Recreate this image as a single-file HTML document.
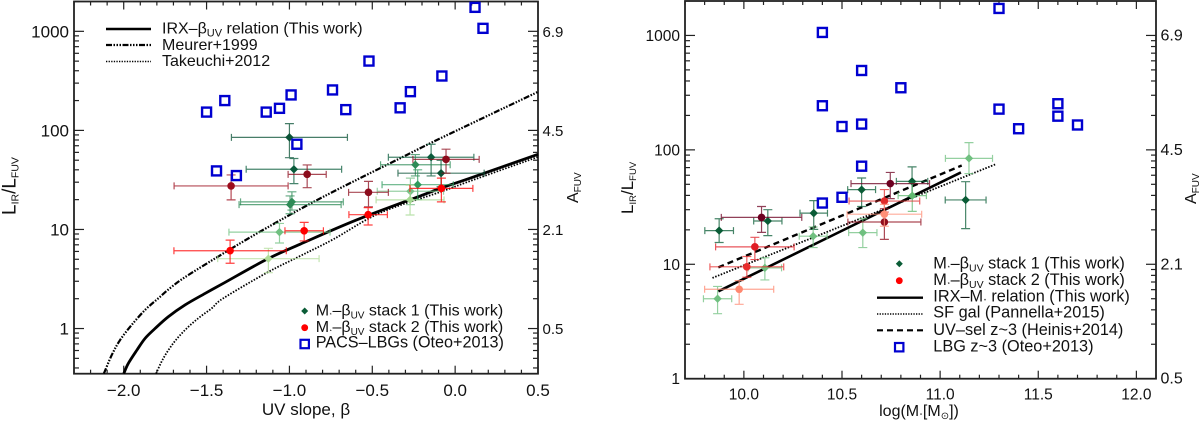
<!DOCTYPE html>
<html lang="en">
<head>
<meta charset="utf-8">
<title>IRX relations</title>
<style>
html,body{margin:0;padding:0;background:#fff;}
svg{display:block;position:absolute;left:0;top:0;}
text{font-family:"Liberation Sans","DejaVu Sans",sans-serif;fill:#111;}
</style>
</head>
<body>
<svg id="chart" xmlns="http://www.w3.org/2000/svg" width="1200" height="422" viewBox="0 0 1200 422">
  <rect x="0" y="0" width="1200" height="422" fill="#fff"/>
  <g id="left-panel"></g>
  <g id="right-panel"></g>

  <!-- Axis titles -->
  <text x="306" y="415" font-size="17" text-anchor="middle">UV slope, β</text>
  <text transform="translate(15.5,215) rotate(-90)" font-size="19">L<tspan font-size="10.5" dy="3">IR</tspan><tspan font-size="19" dy="-3">/L</tspan><tspan font-size="10.5" dy="3">FUV</tspan></text>
  <text transform="translate(578,203) rotate(-90)" font-size="16">A<tspan font-size="10" dy="3">FUV</tspan></text>
  <text x="919" y="416" font-size="16" text-anchor="middle">log(M<tspan font-size="6">⋆</tspan>[M<tspan font-size="10" dy="3">⊙</tspan><tspan dy="-3">])</tspan></text>
  <text transform="translate(633,214) rotate(-90)" font-size="17">L<tspan font-size="9.5" dy="3">IR</tspan><tspan font-size="17" dy="-3">/L</tspan><tspan font-size="9.5" dy="3">FUV</tspan></text>
  <text transform="translate(1196,204) rotate(-90)" font-size="16">A<tspan font-size="10" dy="3">FUV</tspan></text>

  <!-- Left legend, top -->
  <g>
    <line x1="106" x2="151" y1="29" y2="29" stroke="#000" stroke-width="2.6"/>
    <line x1="106" x2="151" y1="45" y2="45" stroke="#000" stroke-width="2.2" stroke-dasharray="6 1.5 1.5 1.5 1.5 1.5 1.5 1.5"/>
    <line x1="106" x2="151" y1="61.5" y2="61.5" stroke="#000" stroke-width="1.6" stroke-dasharray="1.3 1.3"/>
    <text x="162" y="33.5" font-size="16">IRX–β<tspan font-size="11" dy="3">UV</tspan><tspan dy="-3"> relation (This work)</tspan></text>
    <text x="162" y="50" font-size="16">Meurer+1999</text>
    <text x="162" y="66" font-size="16">Takeuchi+2012</text>
  </g>

  <!-- Left legend, bottom -->
  <g>
    <path d="M304.7 307.5 L308.2 311 L304.7 314.5 L301.2 311 Z" fill="#0a5c36"/>
    <circle cx="304.7" cy="327.7" r="3.4" fill="#f00"/>
    <rect x="300.5" y="339.8" width="8.4" height="8.4" fill="none" stroke="#0000d0" stroke-width="2.2"/>
    <text x="315.7" y="315.3" font-size="16">M<tspan font-size="5.5">⋆</tspan>–β<tspan font-size="10" dy="3">UV</tspan><tspan dy="-3"> stack 1 (This work)</tspan></text>
    <text x="315.7" y="332" font-size="16">M<tspan font-size="5.5">⋆</tspan>–β<tspan font-size="10" dy="3">UV</tspan><tspan dy="-3"> stack 2 (This work)</tspan></text>
    <text x="315.7" y="347.7" font-size="16.2">PACS–LBGs (Oteo+2013)</text>
  </g>

  <!-- Right legend -->
  <g>
    <path d="M899.3 260.2 L902.8 263.7 L899.3 267.2 L895.8 263.7 Z" fill="#0a5c36"/>
    <circle cx="899.3" cy="280.7" r="3.4" fill="#f00"/>
    <line x1="877" x2="923" y1="297.7" y2="297.7" stroke="#000" stroke-width="2.4"/>
    <line x1="877" x2="923" y1="314" y2="314" stroke="#000" stroke-width="1.6" stroke-dasharray="1.3 1.3"/>
    <line x1="877" x2="923" y1="330.3" y2="330.3" stroke="#000" stroke-width="2.2" stroke-dasharray="6 4"/>
    <rect x="895" y="343" width="8.4" height="8.4" fill="none" stroke="#0000d0" stroke-width="2.2"/>
    <text x="933.3" y="268.3" font-size="16.3">M<tspan font-size="6">⋆</tspan>–β<tspan font-size="10.5" dy="3">UV</tspan><tspan dy="-3"> stack 1 (This work)</tspan></text>
    <text x="933.3" y="285" font-size="16.3">M<tspan font-size="6">⋆</tspan>–β<tspan font-size="10.5" dy="3">UV</tspan><tspan dy="-3"> stack 2 (This work)</tspan></text>
    <text x="933.3" y="301.7" font-size="16.3">IRX–M<tspan font-size="6">⋆</tspan> relation (This work)</text>
    <text x="933.3" y="317.7" font-size="16.3">SF gal (Pannella+2015)</text>
    <text x="933.3" y="335" font-size="16.3">UV–sel z~3 (Heinis+2014)</text>
    <text x="933.3" y="351.7" font-size="16.3">LBG z~3 (Oteo+2013)</text>
  </g>
</svg>

<script>
// ---------- Tick data ----------
const leftXTicks = [-2.0, -1.5, -1.0, -0.5, 0.0, 0.5];
const leftXTickLabels = ['−2.0', '−1.5', '−1.0', '−0.5', '0.0', '0.5'];
const rightXTicks = [10.0, 10.5, 11.0, 11.5, 12.0];
const rightXTickLabels = ['10.0', '10.5', '11.0', '11.5', '12.0'];
const yTicks = [1, 10, 100, 1000];
const yTickLabels = ['1', '10', '100', '1000'];
const afuvTickLabels = ['0.5', '2.1', '4.5', '6.9'];

// ---------- Left panel curves ----------
const irxBetaX = [-2.0, -1.972, -1.92, -1.871, -1.811, -1.731, -1.63, -1.509, -1.389, -1.136, -0.935, -0.593, -0.192, -0.091, 0.09, 0.5];
const irxBetaY = [0.35, 0.445, 0.607, 0.796, 1.0, 1.315, 1.73, 2.26, 2.92, 5.0, 7.1, 12.5, 22.4, 26, 32.9, 57.4];
const meurerX = [-2.12, -2.072, -2.022, -1.952, -1.871, -1.791, -1.71, -1.61, -1.358, -1.136, -0.795, -0.292, -0.09, 0.5];
const meurerY = [0.35, 0.541, 0.765, 1.087, 1.54, 2.02, 2.64, 3.47, 6.3, 10.4, 21.4, 56.5, 83, 245];
const takeuchiX = [-1.805, -1.761, -1.701, -1.63, -1.55, -1.469, -1.399, -1.136, -0.935, -0.735, -0.453, -0.09, 0.09, 0.5];
const takeuchiY = [0.35, 0.5, 0.71, 0.966, 1.27, 1.6, 2.02, 3.66, 5.4, 7.96, 14.7, 23.9, 30.8, 54];

// ---------- Left panel squares (PACS-LBGs) ----------
const pacsBeta = [-1.5, -1.39, -1.14, -1.06, -0.99, -0.955, -1.44, -1.32, -0.74, -0.66, -0.52, -0.332, -0.27, -0.08, 0.12, 0.168];
const pacsIrx = [153, 200, 153, 167, 228, 72.5, 39, 35, 256, 162, 501, 169, 246, 354, 1746, 1072];

// ---------- Left panel stack 1 ----------
const leftStack1Beta = [-1.0, -0.973, -0.985, -0.996, -0.145, -0.24, -0.085, -0.226, -0.27, -0.272, -1.06, -1.127];
const leftStack1BetaErr = [0.35, 0.288, 0.31, 0.308, 0.258, 0.21, 0.26, 0.215, 0.2, 0.205, 0.305, 0.306];
const leftStack1Irx = [85, 40.5, 19, 17.8, 53.6, 45, 37, 28.3, 24.3, 19.9, 9.4, 5.07];
const leftStack1Hi = [117, 52, 24, 21.8, 72.5, 57, 50, 40, 33, 28, 11.5, 6.45];
const leftStack1Lo = [53, 29, 15.7, 14.4, 34.7, 34.7, 27, 20, 17.8, 14, 7.3, 3.66];

// ---------- Left panel stack 2 ----------
const leftStack2Beta = [-1.352, -0.893, -0.523, -0.055, -0.083, -0.525, -0.911, -1.358];
const leftStack2BetaErr = [0.344, 0.115, 0.12, 0.2, 0.19, 0.116, 0.116, 0.339];
const leftStack2Irx = [27.5, 36, 23.7, 51, 26, 14.1, 9.7, 6.1];
const leftStack2Hi = [35.5, 44.8, 30.6, 64.6, 33, 16.6, 11.8, 7.8];
const leftStack2Lo = [19.9, 26.4, 16.9, 37, 19, 11.1, 7.66, 4.56];

// ---------- Right panel relations ----------
const irxMassX = [9.87, 11.106];
const irxMassY = [5.8, 63.5];
const heinisX = [9.87, 11.11];
const heinisY = [9.4, 73];
const pannellaX = [9.84, 11.284];
const pannellaY = [7.6, 75];

// ---------- Right panel squares (LBG) ----------
const lbgMass = [10.4, 10.6, 10.8, 10.4, 10.5, 10.6, 10.6, 10.5, 10.4, 11.3, 11.3, 11.4, 11.6, 11.6, 11.7];
const lbgIrx = [1062, 494, 349, 243, 160, 168, 72, 38.5, 34.3, 1722, 227, 153, 253, 197, 165];

// ---------- Right panel stack 1 ----------
const rightStack1Mass = [9.874, 10.122, 10.356, 10.6, 10.857, 11.13, 11.147, 10.858, 10.606, 10.353, 10.107, 9.866];
const rightStack1MassErr = [0.073, 0.072, 0.07, 0.071, 0.08, 0.104, 0.12, 0.072, 0.072, 0.071, 0.085, 0.072];
const rightStack1Irx = [19.7, 23.9, 28, 44.9, 53, 36.5, 84.3, 39.8, 18.9, 17.6, 9.3, 5];
const rightStack1Hi = [25, 30, 36, 56.8, 71, 52.7, 115.6, 51, 25, 21.2, 11.4, 6.4];
const rightStack1Lo = [15.5, 17.8, 20.2, 32, 38.7, 20.5, 62, 29, 14, 14, 7.3, 3.7];

// ---------- Right panel stack 2 ----------
const rightStack2Mass = [10.09, 10.746, 10.716, 10.056, 10.716, 10.015, 9.976, 10.716];
const rightStack2MassErr = [0.205, 0.2, 0.186, 0.2, 0.18, 0.188, 0.176, 0.19];
const rightStack2Irx = [25.7, 50.7, 23.4, 14.2, 35.7, 9.5, 6.05, 27.4];
const rightStack2Hi = [32, 63.5, 30.6, 17.2, 45, 11.7, 7.2, 33.4];
const rightStack2Lo = [19, 37.5, 16.5, 11, 28.6, 7.7, 4.47, 21.5];

// ---------- Styling, separate from the data ----------
const leftStack1Colors = ['#0a5236', '#0a5c3c', '#2e8b57', '#2e8b57', '#0a5c3c', '#2e8b57', '#0a5236', '#2e9a5c', '#78c088', '#a4d890', '#70c080', '#b0dc98'];
const leftStack2Colors = ['#9c0c1c', '#8c0c1c', '#8c0c1c', '#8c0c1c', '#ff0000', '#ff0000', '#ff0000', '#ff0000'];
const rightStack1Colors = ['#0a5c36', '#0a5c36', '#0a5c36', '#0a5c36', '#0a5c36', '#0a5c36', '#70c080', '#60b870', '#70c080', '#70c080', '#70c080', '#70c080'];
const rightStack2Colors = ['#6c0020', '#6c0020', '#900c1c', '#e01c24', '#e02c2c', '#e82c2c', '#ff8870', '#ff9078'];

const NS = 'http://www.w3.org/2000/svg';

function make(tag, attrs, parent) {
  const el = document.createElementNS(NS, tag);
  for (const k in attrs) el.setAttribute(k, attrs[k]);
  parent.appendChild(el);
  return el;
}

function makeScales(box) {
  const logMin = Math.log10(box.yMin);
  const logMax = Math.log10(box.yMax);
  return {
    x: v => box.left + (v - box.xMin) / (box.xMax - box.xMin) * (box.right - box.left),
    y: v => box.bottom - (Math.log10(v) - logMin) / (logMax - logMin) * (box.bottom - box.top)
  };
}

function drawAxes(g, box, s, xTicks, xLabels, st) {
  const tick = (x1, y1, x2, y2, w, name) => {
    const el = make('line', {x1, y1, x2, y2, stroke: '#222', 'stroke-width': w}, g);
    
    
  };

  const start = Math.ceil(box.xMin * 10 - 1e-6);
  const end = Math.floor(box.xMax * 10 + 1e-6);
  for (let i = start; i <= end; i++) {
    const v = i / 10;
    const major = xTicks.some(t => Math.abs(t - v) < 1e-6);
    const len = major ? 8 : 4;
    const px = s.x(v);
    tick(px, box.bottom, px, box.bottom - len, 1.2, 'x-tick-bottom');
    tick(px, box.top, px, box.top + len, 1.2, 'x-tick-top');
  }

  for (let d = -1; d <= 3; d++) {
    for (let m = 1; m <= 9; m++) {
      const v = m * Math.pow(10, d);
      if (v < box.yMin || v > box.yMax) continue;
      const len = m === 1 ? 10 : 5;
      const py = s.y(v);
      tick(box.left, py, box.left + len, py, 1.2, 'y-tick-left');
      tick(box.right, py, box.right - len, py, 1.2, 'y-tick-right');
    }
  }

  const frame = make('rect', {
    x: box.left, y: box.top, width: box.right - box.left, height: box.bottom - box.top,
    fill: 'none', stroke: '#222', 'stroke-width': 1.8
  }, g);
  
  

  xTicks.forEach((v, i) => {
    const t = make('text', {x: s.x(v), y: st.xLabelY, 'font-size': st.tickSize, 'text-anchor': 'middle'}, g);
    t.textContent = xLabels[i];
    
    
  });

  yTicks.forEach((v, i) => {
    const t = make('text', {x: box.left - 5, y: s.y(v) + st.yLabelDy, 'font-size': st.tickSize, 'text-anchor': 'end'}, g);
    t.textContent = yTickLabels[i];
    
    

    const a = make('text', {x: box.right + 4.5, y: s.y(v) + st.yLabelDy - 0.5, 'font-size': st.afuvSize}, g);
    a.textContent = afuvTickLabels[i];
    
    
  });
}

// Smooth Catmull-Rom path through the read points, in pixel space
function drawCurve(g, s, xs, ys, attrs, name) {
  const pts = xs.map((v, i) => [s.x(v), s.y(ys[i])]);
  let d = 'M' + pts[0][0].toFixed(2) + ' ' + pts[0][1].toFixed(2);
  for (let i = 0; i < pts.length - 1; i++) {
    const p0 = pts[Math.max(i - 1, 0)];
    const p1 = pts[i];
    const p2 = pts[i + 1];
    const p3 = pts[Math.min(i + 2, pts.length - 1)];
    const c1x = p1[0] + (p2[0] - p0[0]) / 6;
    const c1y = p1[1] + (p2[1] - p0[1]) / 6;
    const c2x = p2[0] - (p3[0] - p1[0]) / 6;
    const c2y = p2[1] - (p3[1] - p1[1]) / 6;
    d += ` C${c1x.toFixed(2)} ${c1y.toFixed(2)} ${c2x.toFixed(2)} ${c2y.toFixed(2)} ${p2[0].toFixed(2)} ${p2[1].toFixed(2)}`;
  }
  const p = make('path', Object.assign({d, fill: 'none', stroke: '#000'}, attrs), g);
  
  
}

function drawErrorPoints(g, s, xs, xerr, ys, hi, lo, colors, shape, name) {
  xs.forEach((v, i) => {
    const grp = make('g', {}, g);
    
    

    const c = colors[i];
    const px = s.x(v), py = s.y(ys[i]);
    const x0 = s.x(v - xerr[i]), x1 = s.x(v + xerr[i]);
    const yH = s.y(hi[i]), yL = s.y(lo[i]);
    const d = `M${x0} ${py}H${x1}M${x0} ${py - 3.5}V${py + 3.5}M${x1} ${py - 3.5}V${py + 3.5}` +
              `M${px} ${yH}V${yL}M${px - 4.5} ${yH}H${px + 4.5}M${px - 4.5} ${yL}H${px + 4.5}`;
    const bars = make('path', {d, fill: 'none', stroke: c, 'stroke-width': 1.2, 'stroke-opacity': 0.75}, grp);
    
    

    let mark;
    if (shape === 'diamond') {
      mark = make('path', {d: `M${px} ${py - 4.2}L${px + 4.2} ${py}L${px} ${py + 4.2}L${px - 4.2} ${py}Z`, fill: c}, grp);
    } else {
      mark = make('circle', {cx: px, cy: py, r: 3.8, fill: c}, grp);
    }
    
    
  });
}

function drawSquares(g, s, xs, ys, name) {
  xs.forEach((v, i) => {
    const r = make('rect', {
      x: s.x(v) - 4.5, y: s.y(ys[i]) - 4.5, width: 9, height: 9,
      fill: 'none', stroke: '#0000d0', 'stroke-width': 2.4
    }, g);
    
    
  });
}

// ---------- Left panel ----------
const leftBox = {left: 74, right: 538, top: 1.5, bottom: 373.7, xMin: -2.3, xMax: 0.5, yMin: 0.35, yMax: 2000};
const leftScale = makeScales(leftBox);
const leftG = document.getElementById('left-panel');
drawAxes(leftG, leftBox, leftScale, leftXTicks, leftXTickLabels, {xLabelY: 396, yLabelDy: 6, tickSize: 17, afuvSize: 15});
drawCurve(leftG, leftScale, meurerX, meurerY, {'stroke-width': 2.2, 'stroke-dasharray': '6 1.5 1.5 1.5 1.5 1.5 1.5 1.5'}, 'meurer-curve');
drawCurve(leftG, leftScale, takeuchiX, takeuchiY, {'stroke-width': 1.8, 'stroke-dasharray': '1.5 1.5'}, 'takeuchi-curve');
drawCurve(leftG, leftScale, irxBetaX, irxBetaY, {'stroke-width': 2.8}, 'irx-beta-curve');
drawErrorPoints(leftG, leftScale, leftStack1Beta, leftStack1BetaErr, leftStack1Irx, leftStack1Hi, leftStack1Lo, leftStack1Colors, 'diamond', 'stack1-point');
drawErrorPoints(leftG, leftScale, leftStack2Beta, leftStack2BetaErr, leftStack2Irx, leftStack2Hi, leftStack2Lo, leftStack2Colors, 'circle', 'stack2-point');
drawSquares(leftG, leftScale, pacsBeta, pacsIrx, 'pacs-lbg-square');

// ---------- Right panel ----------
const rightBox = {left: 685, right: 1156, top: 1, bottom: 378.7, xMin: 9.7, xMax: 12.1, yMin: 1, yMax: 2000};
const rightScale = makeScales(rightBox);
const rightG = document.getElementById('right-panel');
drawAxes(rightG, rightBox, rightScale, rightXTicks, rightXTickLabels, {xLabelY: 399.5, yLabelDy: 5.5, tickSize: 15.5, afuvSize: 16});
drawCurve(rightG, rightScale, pannellaX, pannellaY, {'stroke-width': 1.8, 'stroke-dasharray': '1.5 1.5'}, 'pannella-line');
drawCurve(rightG, rightScale, heinisX, heinisY, {'stroke-width': 2.4, 'stroke-dasharray': '6 4'}, 'heinis-line');
drawCurve(rightG, rightScale, irxMassX, irxMassY, {'stroke-width': 2.6}, 'irx-mass-line');
drawErrorPoints(rightG, rightScale, rightStack1Mass, rightStack1MassErr, rightStack1Irx, rightStack1Hi, rightStack1Lo, rightStack1Colors, 'diamond', 'mass-stack1-point');
drawErrorPoints(rightG, rightScale, rightStack2Mass, rightStack2MassErr, rightStack2Irx, rightStack2Hi, rightStack2Lo, rightStack2Colors, 'circle', 'mass-stack2-point');
drawSquares(rightG, rightScale, lbgMass, lbgIrx, 'lbg-square');
</script>
</body>
</html>
